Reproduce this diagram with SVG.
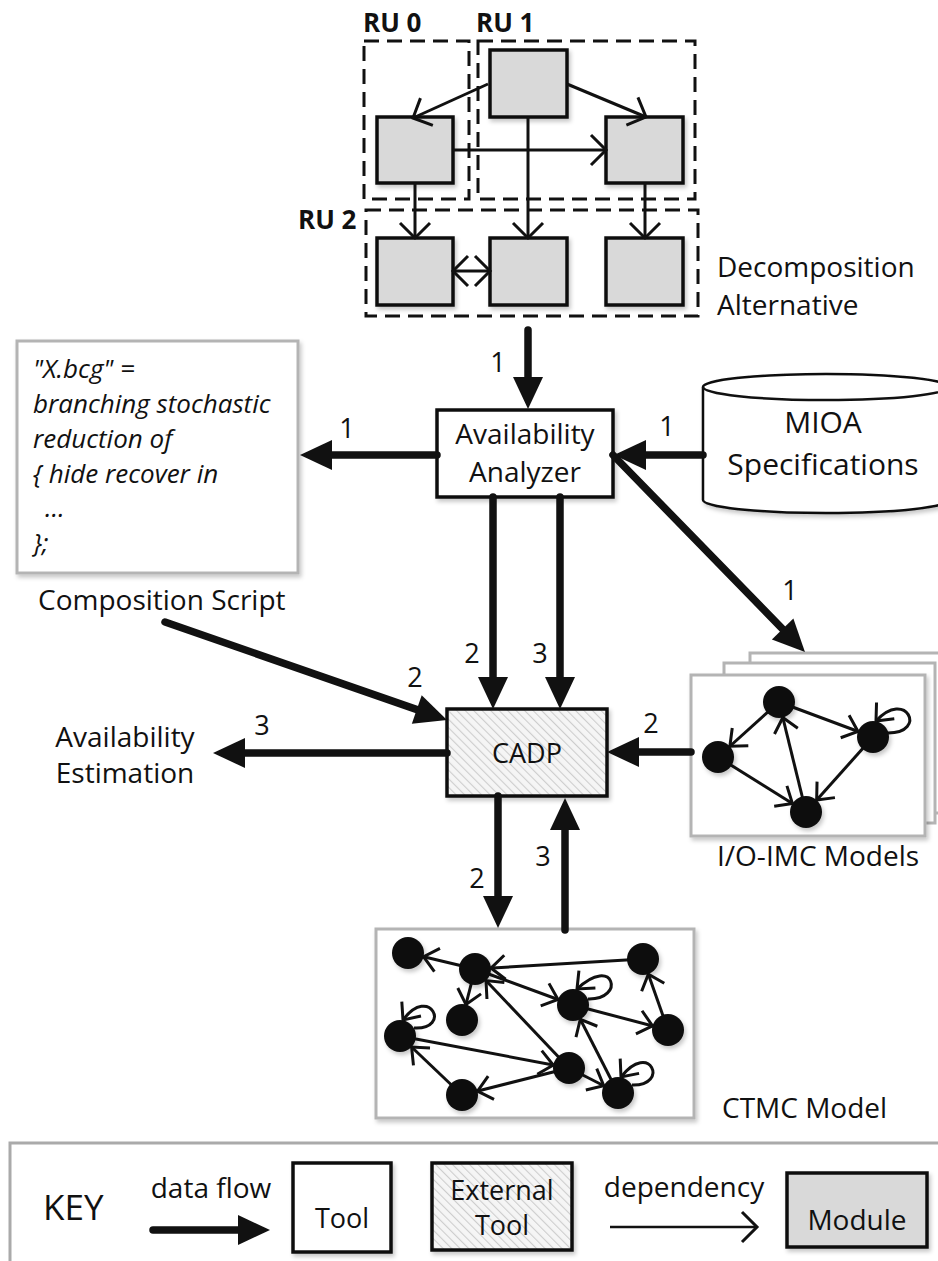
<svg xmlns="http://www.w3.org/2000/svg" width="938" height="1261" viewBox="0 0 938 1261">
<defs>
<style>
text{font-family:"Open Sans","Liberation Sans",sans-serif;fill:#111}
.lbl{font-size:28px}
.num{font-size:27px;text-anchor:middle}
.mid{text-anchor:middle}
.it{font-size:26px;font-style:italic}
.ru{font-size:26px;font-weight:bold}
.mod{fill:#d9d9d9;stroke:#111;stroke-width:3.5}
.tool{fill:#fff;stroke:#111;stroke-width:3.5}
.ext{fill:url(#hatch);stroke:#111;stroke-width:3.5}
.gbox{fill:#fff;stroke:#b4b4b4;stroke-width:3}
.dash{fill:none;stroke:#111;stroke-width:3;stroke-dasharray:15 8}
.thick{fill:none;stroke:#111;stroke-width:7.5;stroke-linecap:round;marker-end:url(#big)}
.thin{fill:none;stroke:#111;stroke-width:3;marker-end:url(#v)}
.edge{fill:none;stroke:#111;stroke-width:3;marker-end:url(#vs)}
.loop{fill:none;stroke:#111;stroke-width:3;marker-end:url(#vl)}
.st{fill:#111}
</style>
<pattern id="hatch" patternUnits="userSpaceOnUse" width="6" height="6" patternTransform="rotate(-45)">
<rect width="6" height="6" fill="#f5f5f5"/>
<line x1="0" y1="0" x2="0" y2="6" stroke="#cdcdcd" stroke-width="2.2"/>
</pattern>
<filter id="sh" x="-10%" y="-10%" width="130%" height="130%">
<feDropShadow dx="2" dy="3" stdDeviation="2" flood-color="#000" flood-opacity="0.22"/>
</filter>
<marker id="big" markerUnits="userSpaceOnUse" markerWidth="34" markerHeight="32" refX="14" refY="15" orient="auto" overflow="visible">
<path d="M0,0 L32,15 L0,30 Z" fill="#111"/>
</marker>
<marker id="v" markerUnits="userSpaceOnUse" markerWidth="20" markerHeight="34" refX="15" refY="15" orient="auto-start-reverse" overflow="visible">
<path d="M0,0 L15,15 L0,30" fill="none" stroke="#111" stroke-width="3"/>
</marker>
<marker id="vs" markerUnits="userSpaceOnUse" markerWidth="40" markerHeight="30" refX="30" refY="12" orient="auto" overflow="visible">
<path d="M0,0 L14,12 L0,24" fill="none" stroke="#111" stroke-width="3"/>
</marker>
<marker id="vl" markerUnits="userSpaceOnUse" markerWidth="20" markerHeight="30" refX="14" refY="12" orient="auto" overflow="visible">
<path d="M0,0 L14,12 L0,24" fill="none" stroke="#111" stroke-width="3"/>
</marker>
</defs>
<rect width="938" height="1261" fill="#fff"/>

<!-- Decomposition alternative -->
<g id="decomposition">
<rect class="dash" x="364" y="41" width="105" height="158"/>
<rect class="dash" x="478" y="41" width="217" height="158"/>
<rect class="dash" x="366" y="210" width="332" height="106"/>
<text class="ru" x="363" y="32">RU 0</text>
<text class="ru" x="476" y="32">RU 1</text>
<text class="ru" x="298" y="229">RU 2</text>
<text class="lbl" x="717" y="277">Decomposition</text>
<text class="lbl" x="717" y="315">Alternative</text>
</g>
<g id="m-top"><rect class="mod" filter="url(#sh)" x="490" y="50" width="77" height="67"/></g>
<g id="m-left"><rect class="mod" filter="url(#sh)" x="377" y="117" width="76" height="66"/></g>
<g id="m-right"><rect class="mod" filter="url(#sh)" x="606" y="117" width="77" height="66"/></g>
<g id="m-b1"><rect class="mod" filter="url(#sh)" x="377" y="238" width="76" height="67"/></g>
<g id="m-b2"><rect class="mod" filter="url(#sh)" x="490" y="238" width="77" height="67"/></g>
<g id="m-b3"><rect class="mod" filter="url(#sh)" x="606" y="238" width="77" height="67"/></g>

<!-- Composition script -->
<g id="composition-script">
<rect class="gbox" filter="url(#sh)" x="17" y="341" width="281" height="232"/>
<text class="it" x="33" y="378">"X.bcg" =</text>
<text class="it" x="33" y="413">branching stochastic</text>
<text class="it" x="33" y="448">reduction of</text>
<text class="it" x="33" y="483">{ hide recover in</text>
<text class="it" x="45" y="517">…</text>
<text class="it" x="33" y="552">};</text>
<text class="lbl" x="38" y="610">Composition Script</text>
</g>

<!-- Availability Analyzer -->
<g id="availability-analyzer">
<rect class="tool" filter="url(#sh)" x="437" y="410" width="176" height="87"/>
<text class="lbl mid" x="525" y="444">Availability</text>
<text class="lbl mid" x="525" y="482">Analyzer</text>
</g>

<!-- MIOA -->
<g id="mioa">
<path d="M703,387 L703,500 A123,13 0 0 0 949,500 L949,387 A123,13 0 0 0 703,387 Z" fill="#fff" stroke="#111" stroke-width="2.5" filter="url(#sh)"/>
<path d="M703,387 A123,13 0 0 0 949,387" fill="none" stroke="#111" stroke-width="2.5"/>
<text class="mid" x="823" y="433" style="font-size:30px">MIOA</text>
<text class="mid" x="823" y="475" style="font-size:30px">Specifications</text>
</g>

<!-- CADP -->
<g id="cadp">
<rect class="ext" filter="url(#sh)" x="447" y="709" width="160" height="87"/>
<text class="mid" x="527" y="763" style="font-size:27px">CADP</text>
</g>

<!-- Availability estimation -->
<g id="availability-estimation">
<text class="lbl mid" x="125" y="747">Availability</text>
<text class="lbl mid" x="125" y="783">Estimation</text>
</g>

<!-- I/O-IMC models -->
<g id="io-imc">
<rect class="gbox" x="750" y="653" width="200" height="160"/>
<rect class="gbox" x="724" y="663" width="211" height="160"/>
<rect class="gbox" filter="url(#sh)" x="691" y="675" width="234" height="161"/>
<line class="edge" x1="779" y1="702" x2="718" y2="757"/>
<line class="edge" x1="779" y1="702" x2="873" y2="737"/>
<line class="edge" x1="718" y1="757" x2="806" y2="812"/>
<line class="edge" x1="873" y1="737" x2="806" y2="812"/>
<line class="edge" x1="806" y1="812" x2="779" y2="702"/>
<path class="loop" d="M888,733 C928,733 906,688 876,721"/>
<g class="st" filter="url(#sh)">
<circle cx="779" cy="702" r="16"/>
<circle cx="718" cy="757" r="16"/>
<circle cx="873" cy="737" r="16"/>
<circle cx="806" cy="812" r="16"/>
</g>
<text class="lbl" x="717" y="866">I/O-IMC Models</text>
</g>

<!-- CTMC model -->
<g id="ctmc">
<rect class="gbox" filter="url(#sh)" x="376" y="929" width="318" height="189"/>
<line class="edge" x1="475" y1="969" x2="408" y2="953"/>
<line class="edge" x1="643" y1="959" x2="475" y2="969"/>
<line class="edge" x1="475" y1="969" x2="462" y2="1020"/>
<line class="edge" x1="475" y1="969" x2="573" y2="1005"/>
<line class="edge" x1="573" y1="1005" x2="668" y2="1030"/>
<line class="edge" x1="668" y1="1030" x2="643" y2="959"/>
<line class="edge" x1="400" y1="1036" x2="569" y2="1068"/>
<line class="edge" x1="569" y1="1068" x2="475" y2="969"/>
<line class="edge" x1="462" y1="1095" x2="400" y2="1036"/>
<line class="edge" x1="569" y1="1068" x2="462" y2="1095"/>
<line class="edge" x1="569" y1="1068" x2="618" y2="1093"/>
<line class="edge" x1="618" y1="1093" x2="573" y2="1005"/>
<path class="loop" d="M588,999 C626,1000 614,954 577,989"/>
<path class="loop" d="M414,1028 C452,1030 430,984 403,1020"/>
<path class="loop" d="M632,1085 C670,1086 650,1040 621,1077"/>
<g class="st" filter="url(#sh)">
<circle cx="408" cy="953" r="16"/>
<circle cx="475" cy="969" r="16"/>
<circle cx="643" cy="959" r="16"/>
<circle cx="462" cy="1020" r="16"/>
<circle cx="573" cy="1005" r="16"/>
<circle cx="400" cy="1036" r="16"/>
<circle cx="668" cy="1030" r="16"/>
<circle cx="569" cy="1068" r="16"/>
<circle cx="462" cy="1095" r="16"/>
<circle cx="618" cy="1093" r="16"/>
</g>
<text class="lbl" x="722" y="1118">CTMC Model</text>
</g>

<!-- Connectors -->
<g id="connectors">
<line class="thin" x1="488" y1="84" x2="413" y2="118"/>
<line class="thin" x1="567" y1="84" x2="646" y2="117"/>
<line class="thin" x1="453" y1="150" x2="606" y2="150"/>
<line class="thin" x1="528" y1="117" x2="528" y2="238"/>
<line class="thin" x1="415" y1="183" x2="415" y2="238"/>
<line class="thin" x1="645" y1="183" x2="645" y2="238"/>
<line class="thin" x1="453" y1="271" x2="490" y2="271" marker-start="url(#v)"/>

<line class="thick" x1="528" y1="330" x2="528" y2="391"/>
<line class="thick" x1="703" y1="455" x2="632" y2="455"/>
<line class="thick" x1="437" y1="455" x2="318" y2="455"/>
<line class="thick" x1="493" y1="497" x2="493" y2="691"/>
<line class="thick" x1="560" y1="497" x2="560" y2="691"/>
<line class="thick" x1="613" y1="455" x2="792.4" y2="639.1"/>
<line class="thick" x1="165" y1="622" x2="430" y2="714.1"/>
<line class="thick" x1="447" y1="753" x2="231" y2="753"/>
<line class="thick" x1="691" y1="752" x2="625" y2="752"/>
<line class="thick" x1="498" y1="796" x2="498" y2="910"/>
<line class="thick" x1="565" y1="930" x2="565" y2="816"/>

<text class="num" x="498" y="372">1</text>
<text class="num" x="347" y="438">1</text>
<text class="num" x="667" y="436">1</text>
<text class="num" x="790" y="600">1</text>
<text class="num" x="472" y="663">2</text>
<text class="num" x="540" y="663">3</text>
<text class="num" x="415" y="687">2</text>
<text class="num" x="262" y="735">3</text>
<text class="num" x="651" y="733">2</text>
<text class="num" x="477" y="888">2</text>
<text class="num" x="543" y="866">3</text>
</g>

<!-- Key -->
<g id="key">
<rect x="10" y="1143" width="940" height="130" fill="none" stroke="#aaa" stroke-width="3"/>
<text x="43" y="1220" style="font-size:35px">KEY</text>
<text class="lbl mid" x="211" y="1198">data flow</text>
<line class="thick" x1="153" y1="1230" x2="252" y2="1230"/>
<rect class="tool" filter="url(#sh)" x="293" y="1163" width="98" height="89"/>
<text class="mid" x="342" y="1228" style="font-size:27px">Tool</text>
<rect class="ext" filter="url(#sh)" x="432" y="1163" width="140" height="87"/>
<text class="mid" x="502" y="1200" style="font-size:27px">External</text>
<text class="mid" x="502" y="1235" style="font-size:27px">Tool</text>
<text class="lbl mid" x="684" y="1197">dependency</text>
<line x1="610" y1="1227" x2="757" y2="1227" stroke="#111" stroke-width="2.5" marker-end="url(#v)"/>
<rect class="mod" filter="url(#sh)" x="787" y="1173" width="140" height="74"/>
<text class="lbl mid" x="857" y="1230">Module</text>
</g>
</svg>
